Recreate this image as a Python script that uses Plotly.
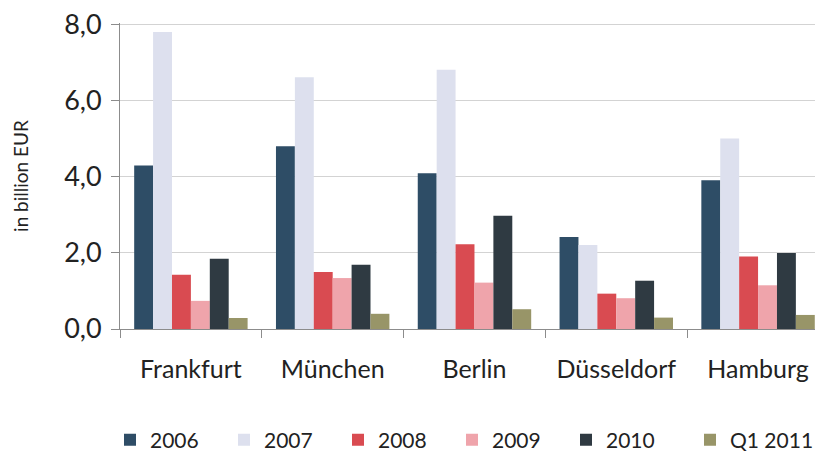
import plotly.graph_objects as go

cities = ["Frankfurt", "München", "Berlin", "Düsseldorf", "Hamburg"]
series_names = ["2006", "2007", "2008", "2009", "2010", "Q1 2011"]
v2006 = [4.30, 4.81, 4.10, 2.42, 3.91]
v2007 = [7.81, 6.62, 6.82, 2.21, 5.01]
v2008 = [1.43, 1.50, 2.23, 0.93, 1.91]
v2009 = [0.74, 1.34, 1.22, 0.81, 1.15]
v2010 = [1.85, 1.69, 2.98, 1.27, 2.00]
vq12011 = [0.29, 0.40, 0.52, 0.30, 0.37]
colors = ["#2E4D66", "#DDE0EE", "#D94B51", "#EFA4AB", "#2F3A42", "#989568"]
y_ticks = [0, 2, 4, 6, 8]

values = [v2006, v2007, v2008, v2009, v2010, vq12011]

fig = go.Figure()
for i, (name, vals, col) in enumerate(zip(series_names, values, colors)):
    fig.add_trace(go.Bar(name=name, x=cities, y=vals,
                         marker=dict(color=col, line=dict(width=0)),
                         legend="legend2" if i == 5 else "legend"))

font = "Lato, 'Open Sans', sans-serif"
leg_common = dict(orientation="h", xref="container", yref="container",
                  xanchor="left", y=1 - 432 / 458, yanchor="middle",
                  font=dict(size=21, color="#222222"),
                  itemwidth=30, traceorder="normal", borderwidth=0,
                  bgcolor="rgba(0,0,0,0)")
fig.update_layout(
    width=823, height=458,
    margin=dict(l=112, r=8, t=15, b=137, autoexpand=False),
    paper_bgcolor="white", plot_bgcolor="white",
    barmode="group", bargap=0.2, bargroupgap=0,
    separators=",.",
    font=dict(family=font, color="#222222", size=19),
    showlegend=True,
    legend=dict(x=102 / 823, entrywidth=69, entrywidthmode="pixels", **leg_common),
    legend2=dict(x=(102 + 5 * 116) / 823, **leg_common),
)
fig.update_yaxes(range=[0, 8.05], tickvals=y_ticks, tickformat=".1f",
                 showgrid=True, gridcolor="#D3D3D3", gridwidth=1,
                 showline=True, linecolor="#8C8C8C", linewidth=1,
                 ticks="outside", ticklen=8, tickcolor="#8C8C8C",
                 tickfont=dict(size=27), zeroline=False, automargin=False,
                 ticklabelstandoff=4, ticklabeloverflow="allow",
                 title=dict(text="in billion EUR", font=dict(size=19), standoff=30))
fig.update_xaxes(range=[-0.5, 4.458], showline=True, linecolor="#8C8C8C", linewidth=1,
                 ticks="outside", ticklen=8, tickcolor="#8C8C8C", tickson="boundaries",
                 tickfont=dict(size=25), ticklabelstandoff=18, automargin=False)

fig.write_html("out.html")
